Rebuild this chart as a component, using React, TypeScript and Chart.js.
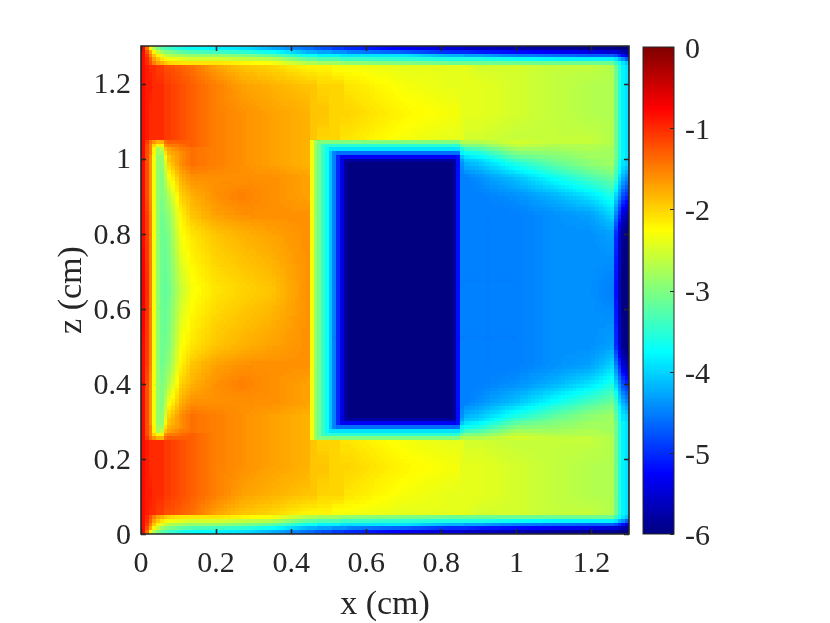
import React, { useEffect, useRef } from "react";
import { Chart, registerables } from "chart.js";

Chart.register(...registerables);

const FONT = "'Liberation Serif', serif";
const INK = "#262626";

const xTicks = [0, 0.2, 0.4, 0.6, 0.8, 1, 1.2];
const zTicks = [0, 0.2, 0.4, 0.6, 0.8, 1, 1.2];
const cbTicks = [-6, -5, -4, -3, -2, -1, 0];
const CELL = 0.01;
const CELLS = 130;
const LEVELS = 256;

const xNodes = [0.005,0.015,0.025,0.035,0.045,0.055,0.065,0.075,0.105,0.135,0.2,0.27,0.35,0.445,0.455,0.465,0.475,0.485,0.495,0.505,0.515,0.525,0.535,0.545,0.555,0.7,0.825,0.835,0.845,0.855,0.865,0.9,1.0,1.1,1.2,1.255,1.265,1.275,1.285,1.295];
const zNodes = [0.005,0.015,0.025,0.035,0.045,0.055,0.105,0.18,0.245,0.255,0.265,0.275,0.285,0.295,0.305,0.315,0.35,0.4,0.45,0.5,0.65,0.8,0.85,0.9,0.95,0.985,0.995,1.005,1.015,1.025,1.035,1.045,1.055,1.12,1.195,1.245,1.255,1.265,1.275,1.285,1.295];

// values, as tenths below zero; one row per z node
const tenthsBelowZero = [
[8,14,22,27,30,32,33,34,36,37,38,39,42,46,46,47,47,48,48,48,49,49,49,50,50,53,55,55,55,55,56,56,57,58,59,59,59,60,60,60],
[8,12,17,22,26,28,30,30,32,33,34,35,37,42,42,42,43,43,43,43,44,44,44,44,45,47,50,50,50,50,50,51,52,53,54,55,55,56,57,58],
[8,11,15,19,22,24,26,27,28,29,29,30,32,37,37,37,38,38,38,38,38,38,39,39,39,39,42,42,42,42,43,43,45,46,47,47,48,50,52,54],
[8,10,13,17,19,21,22,23,24,25,25,26,27,32,32,32,33,33,33,33,33,33,34,34,34,35,36,36,36,36,36,36,37,38,38,38,39,42,44,47],
[8,10,12,15,17,18,19,20,21,21,21,22,23,27,27,27,28,28,28,28,28,28,29,29,29,30,31,31,31,31,31,31,31,31,31,31,34,37,39,41],
[8,9,10,10,11,11,12,12,13,14,17,19,20,22,22,22,22,22,22,22,23,23,23,23,23,24,24,24,24,24,24,25,25,26,26,27,31,35,38,39],
[8,9,9,10,10,10,11,11,12,13,15,17,18,19,19,19,20,20,20,20,20,20,20,21,21,23,24,24,24,24,24,24,25,26,27,27,31,35,38,39],
[8,9,10,10,10,10,11,11,12,13,15,16,17,18,19,19,19,19,19,20,20,20,20,20,20,22,23,23,23,24,24,24,25,26,27,27,31,35,38,39],
[8,9,10,10,10,10,11,11,12,13,15,16,17,18,19,19,20,20,20,20,20,20,21,21,21,23,24,24,24,24,25,25,26,26,26,27,31,35,38,39],
[8,11,14,16,18,18,14,13,13,13,15,16,17,18,23,28,30,30,30,30,30,30,30,30,30,30,30,30,30,27,27,27,25,26,26,27,31,35,38,39],
[8,12,15,20,22,22,16,15,14,13,15,16,17,18,23,28,31,34,35,35,35,35,35,35,35,35,35,35,35,31,30,30,26,27,27,27,31,35,38,39],
[8,12,15,22,28,26,19,17,15,14,15,16,17,18,23,28,31,34,37,39,39,39,39,39,39,39,39,39,39,36,34,33,28,28,27,28,31,35,38,39],
[8,12,15,22,28,28,21,18,16,14,15,16,17,18,23,28,31,34,37,41,45,46,46,46,46,46,46,46,46,38,37,36,30,29,28,28,31,35,38,39],
[8,12,16,23,29,29,23,19,16,14,15,16,17,18,23,28,31,34,37,41,45,50,53,53,53,53,53,53,52,41,39,38,32,30,28,28,31,35,38,39],
[8,12,16,23,29,29,24,19,16,14,15,16,17,18,23,28,31,34,37,41,45,50,54,58,58,58,58,58,52,43,41,40,34,31,29,28,32,36,39,40],
[8,12,16,23,29,29,25,20,16,14,15,16,17,18,23,28,31,34,37,41,45,50,54,58,60,60,60,58,52,44,42,41,36,32,29,28,32,36,39,40],
[8,12,16,23,29,30,27,23,18,16,16,16,16,17,23,28,31,34,37,41,45,50,54,58,60,60,60,58,52,45,45,44,41,37,33,31,34,39,42,44],
[8,12,16,23,29,30,29,27,20,18,16,15,16,17,23,28,31,34,37,41,45,50,54,58,60,60,60,58,52,45,45,45,44,42,39,36,40,44,48,50],
[8,11,15,23,29,31,30,29,22,19,17,16,16,16,23,28,31,34,37,41,45,50,54,58,60,60,60,58,52,45,45,45,45,44,43,40,45,50,55,57],
[8,11,15,23,29,31,31,30,23,21,19,18,17,16,23,28,31,34,37,41,45,50,54,58,60,60,60,58,52,45,45,45,45,44,44,43,50,55,59,60],
[7,10,15,23,29,31,32,31,26,23,21,20,19,16,23,28,31,34,37,41,45,50,54,58,60,60,60,58,52,45,45,45,45,44,44,45,52,57,60,60],
[8,11,15,23,29,31,31,30,23,21,19,18,17,16,23,28,31,34,37,41,45,50,54,58,60,60,60,58,52,45,45,45,45,44,44,43,50,55,59,60],
[8,11,15,23,29,31,30,29,22,19,17,16,16,16,23,28,31,34,37,41,45,50,54,58,60,60,60,58,52,45,45,45,45,44,43,40,45,50,55,57],
[8,12,16,23,29,30,29,27,20,18,16,15,16,17,23,28,31,34,37,41,45,50,54,58,60,60,60,58,52,45,45,45,44,42,39,36,40,44,48,50],
[8,12,16,23,29,30,27,23,18,16,16,16,16,17,23,28,31,34,37,41,45,50,54,58,60,60,60,58,52,45,45,44,41,37,33,31,34,39,42,44],
[8,12,16,23,29,29,25,20,16,14,15,16,17,18,23,28,31,34,37,41,45,50,54,58,60,60,60,58,52,44,42,41,36,32,29,28,32,36,39,40],
[8,12,16,23,29,29,24,19,16,14,15,16,17,18,23,28,31,34,37,41,45,50,54,58,58,58,58,58,52,43,41,40,34,31,29,28,32,36,39,40],
[8,12,16,23,29,29,23,19,16,14,15,16,17,18,23,28,31,34,37,41,45,50,53,53,53,53,53,53,52,41,39,38,32,30,28,28,31,35,38,39],
[8,12,15,22,28,28,21,18,16,14,15,16,17,18,23,28,31,34,37,41,45,46,46,46,46,46,46,46,46,38,37,36,30,29,28,28,31,35,38,39],
[8,12,15,22,28,26,19,17,15,14,15,16,17,18,23,28,31,34,37,39,39,39,39,39,39,39,39,39,39,36,34,33,28,28,27,28,31,35,38,39],
[8,12,15,20,22,22,16,15,14,13,15,16,17,18,23,28,31,34,35,35,35,35,35,35,35,35,35,35,35,31,30,30,26,27,27,27,31,35,38,39],
[8,11,14,16,18,18,14,13,13,13,15,16,17,18,23,28,30,30,30,30,30,30,30,30,30,30,30,30,30,27,27,27,25,26,26,27,31,35,38,39],
[8,9,10,10,10,10,11,11,12,13,15,16,17,18,19,19,20,20,20,20,20,20,21,21,21,23,24,24,24,24,25,25,26,26,26,27,31,35,38,39],
[8,9,10,10,10,10,11,11,12,13,15,16,17,18,19,19,19,19,19,20,20,20,20,20,20,22,23,23,23,24,24,24,25,26,27,27,31,35,38,39],
[8,9,9,10,10,10,11,11,12,13,15,17,18,19,19,19,20,20,20,20,20,20,20,21,21,23,24,24,24,24,24,24,25,26,27,27,31,35,38,39],
[8,9,10,10,11,11,12,12,13,14,17,19,20,22,22,22,22,22,22,22,23,23,23,23,23,24,24,24,24,24,24,25,25,26,26,27,31,35,38,39],
[8,10,12,15,17,18,19,20,21,21,21,22,23,27,27,27,28,28,28,28,28,28,29,29,29,30,31,31,31,31,31,31,31,31,31,31,34,37,39,41],
[8,10,13,17,19,21,22,23,24,25,25,26,27,32,32,32,33,33,33,33,33,33,34,34,34,35,36,36,36,36,36,36,37,38,38,38,39,42,44,47],
[8,11,15,19,22,24,26,27,28,29,29,30,32,37,37,37,38,38,38,38,38,38,39,39,39,39,42,42,42,42,43,43,45,46,47,47,48,50,52,54],
[8,12,17,22,26,28,30,30,32,33,34,35,37,42,42,42,43,43,43,43,44,44,44,44,45,47,50,50,50,50,50,51,52,53,54,55,55,56,57,58],
[8,14,22,27,30,32,33,34,36,37,38,39,42,46,46,47,47,48,48,48,49,49,49,50,50,53,55,55,55,55,56,56,57,58,59,59,59,60,60,60],
];

function jet(v: number): string {
  const level = Math.min(LEVELS - 1, Math.max(0, Math.floor(((v + 6) / 6) * LEVELS)));
  const t = (level + 0.5) / LEVELS;
  const ch = (c: number) => Math.round(255 * Math.max(0, Math.min(1, 1.5 - Math.abs(4 * t - c))));
  return `rgb(${ch(3)},${ch(2)},${ch(1)})`;
}

function bracket(nodes: number[], p: number): [number, number, number] {
  if (p <= nodes[0]) return [0, 0, 0];
  for (let i = 0; i < nodes.length - 1; i++) {
    if (p <= nodes[i + 1]) return [i, i + 1, (p - nodes[i]) / (nodes[i + 1] - nodes[i])];
  }
  const n = nodes.length - 1;
  return [n, n, 0];
}

function valueAt(x: number, z: number): number {
  const [i0, i1, u] = bracket(xNodes, x);
  const [j0, j1, w] = bracket(zNodes, z);
  const r0 = tenthsBelowZero[j0];
  const r1 = tenthsBelowZero[j1];
  const d = (r0[i0] * (1 - u) + r0[i1] * u) * (1 - w) + (r1[i0] * (1 - u) + r1[i1] * u) * w;
  return -d / 10;
}

function drawFrame(chart: any, xs: number[], zs: number[], both: boolean, len: number, width: number) {
  const { ctx, chartArea: a, scales } = chart;
  ctx.save();
  ctx.strokeStyle = INK;
  ctx.lineWidth = width;
  ctx.beginPath();
  ctx.rect(a.left, a.top, a.right - a.left, a.bottom - a.top);
  for (const t of xs) {
    const p = Math.round(scales.x.getPixelForValue(t)) + 0.5;
    ctx.moveTo(p, a.bottom);
    ctx.lineTo(p, a.bottom - len);
    ctx.moveTo(p, a.top);
    ctx.lineTo(p, a.top + len);
  }
  for (const t of zs) {
    const p = Math.round(scales.y.getPixelForValue(t)) + 0.5;
    if (both) {
      ctx.moveTo(a.left, p);
      ctx.lineTo(a.left + len, p);
    }
    ctx.moveTo(a.right, p);
    ctx.lineTo(a.right - len, p);
  }
  ctx.stroke();
  ctx.restore();
}

const heatPlugin = {
  id: "heat",
  beforeDatasetsDraw(chart: any) {
    const { ctx, scales } = chart;
    for (let i = 0; i < CELLS; i++) {
      const l = Math.round(scales.x.getPixelForValue(i * CELL));
      const r = Math.round(scales.x.getPixelForValue((i + 1) * CELL));
      for (let j = 0; j < CELLS; j++) {
        const b = Math.round(scales.y.getPixelForValue(j * CELL));
        const t = Math.round(scales.y.getPixelForValue((j + 1) * CELL));
        ctx.fillStyle = jet(valueAt((i + 0.5) * CELL, (j + 0.5) * CELL));
        ctx.fillRect(l, t, r - l, b - t);
      }
    }
  },
  afterDraw(chart: any) {
    drawFrame(chart, xTicks, zTicks, true, 5, 1.6);
  },
};

const barPlugin = {
  id: "colorbar",
  beforeDatasetsDraw(chart: any) {
    const { ctx, chartArea: a, scales } = chart;
    for (let k = 0; k < LEVELS; k++) {
      const lo = -6 + (6 * k) / LEVELS;
      const hi = -6 + (6 * (k + 1)) / LEVELS;
      const b = Math.ceil(scales.y.getPixelForValue(lo));
      const t = Math.floor(scales.y.getPixelForValue(hi));
      ctx.fillStyle = jet((lo + hi) / 2);
      ctx.fillRect(a.left, t, a.right - a.left, b - t);
    }
  },
  afterDraw(chart: any) {
    const { ctx, chartArea: a, scales } = chart;
    ctx.save();
    ctx.strokeStyle = INK;
    ctx.lineWidth = 1;
    ctx.strokeRect(a.left, a.top, a.right - a.left, a.bottom - a.top);
    ctx.beginPath();
    for (const t of cbTicks) {
      const p = Math.round(scales.y.getPixelForValue(t)) + 0.5;
      ctx.moveTo(a.right, p);
      ctx.lineTo(a.right - 4, p);
    }
    ctx.stroke();
    ctx.restore();
  },
};

const tickFont = { family: FONT, size: 30 };
const titleFont = { family: FONT, size: 34 };
const hidden = { drawOnChartArea: false, drawTicks: false };

export default function App() {
  const mainRef = useRef<HTMLCanvasElement>(null);
  const barRef = useRef<HTMLCanvasElement>(null);

  useEffect(() => {
    const nodes: { x: number; y: number; v: number }[] = [];
    zNodes.forEach((z, j) => xNodes.forEach((x, i) => nodes.push({ x, y: z, v: -tenthsBelowZero[j][i] / 10 })));

    const main = new Chart(mainRef.current!, {
      type: "scatter",
      data: { datasets: [{ data: nodes, pointRadius: 0, pointHoverRadius: 0 }] },
      options: {
        responsive: false,
        animation: false,
        layout: { padding: { top: 46, right: 201, left: 0, bottom: 0 } },
        plugins: { legend: { display: false }, tooltip: { enabled: false } },
        scales: {
          x: {
            type: "linear",
            min: 0,
            max: 1.3,
            afterBuildTicks: (s: any) => { s.ticks = xTicks.map((value) => ({ value })); },
            afterFit: (s: any) => { s.height = 89; },
            grid: hidden,
            border: { display: false },
            ticks: { font: tickFont, color: INK, padding: 12, maxRotation: 0, autoSkip: false, callback: (v: any) => String(v) },
            title: { display: true, text: "x (cm)", font: titleFont, color: INK, padding: { top: 0, bottom: -2 } },
          },
          y: {
            type: "linear",
            min: 0,
            max: 1.3,
            afterBuildTicks: (s: any) => { s.ticks = zTicks.map((value) => ({ value })); },
            afterFit: (s: any) => { s.width = 141; },
            grid: hidden,
            border: { display: false },
            ticks: { font: tickFont, color: INK, padding: 10, labelOffset: 2, autoSkip: false, callback: (v: any) => String(v) },
            title: { display: true, text: "z (cm)", font: titleFont, color: INK, padding: { top: 52, bottom: 0 } },
          },
        },
      },
      plugins: [heatPlugin],
    } as any);

    const bar = new Chart(barRef.current!, {
      type: "scatter",
      data: { datasets: [{ data: cbTicks.map((y) => ({ x: 0, y })), pointRadius: 0, pointHoverRadius: 0 }] },
      options: {
        responsive: false,
        animation: false,
        layout: { padding: { top: 47, left: 643, right: 0, bottom: 89 } },
        plugins: { legend: { display: false }, tooltip: { enabled: false } },
        scales: {
          x: { type: "linear", display: false, min: -1, max: 1 },
          y: {
            type: "linear",
            position: "right",
            min: -6,
            max: 0,
            afterBuildTicks: (s: any) => { s.ticks = cbTicks.map((value) => ({ value })); },
            afterFit: (s: any) => { s.width = 156; },
            grid: hidden,
            border: { display: false },
            ticks: { font: tickFont, color: INK, padding: 11, labelOffset: 3, autoSkip: false, callback: (v: any) => String(v) },
          },
        },
      },
      plugins: [barPlugin],
    } as any);

    return () => {
      main.destroy();
      bar.destroy();
    };
  }, []);

  const style: React.CSSProperties = { position: "absolute", left: 0, top: 0 };
  return (
    <div style={{ position: "absolute", left: 0, top: 0, width: 830, height: 623, background: "#fff" }}>
      <canvas ref={mainRef} width={830} height={623} style={style} />
      <canvas ref={barRef} width={830} height={623} style={style} />
    </div>
  );
}
